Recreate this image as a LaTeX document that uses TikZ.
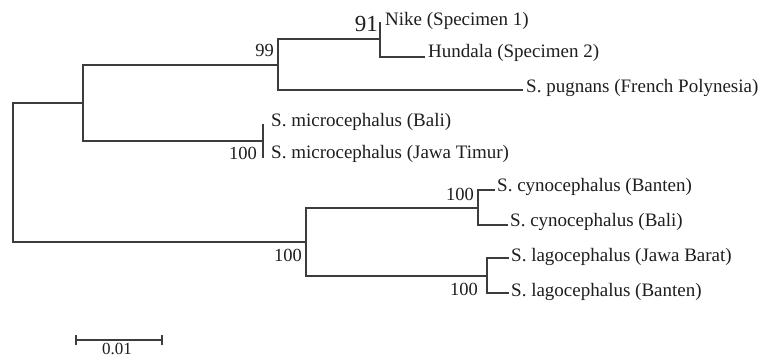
\documentclass[tikz,border=0pt]{standalone}
\usepackage{fontspec}
\setmainfont{Liberation Serif}
\definecolor{branchc}{HTML}{3C3C3C}
\definecolor{textc}{HTML}{1E1E1E}
\begin{document}
\begin{tikzpicture}[x=1pt,y=-1pt,
  br/.style={line width=1.2pt, draw=branchc},
  leaf/.style={anchor=west, inner sep=0pt, text=textc, font=\fontsize{19}{19}\selectfont},
  boot/.style={anchor=east, inner sep=0pt, text=textc, font=\fontsize{18.5}{18.5}\selectfont}]
\useasboundingbox[fill=white] (0,0) rectangle (767,360);
% internal nodes
\coordinate (root) at (13,172);
\coordinate (a) at (83,103);
\coordinate (b) at (278,65);
\coordinate (c) at (380,39);
\coordinate (m) at (263,141);
\coordinate (d) at (306,242);
\coordinate (e) at (478,208);
\coordinate (f) at (487,276);
% tips
\coordinate (tNike) at (380,22);
\coordinate (tHund) at (425,57);
\coordinate (tPug) at (523,90);
\coordinate (tMB) at (263,124);
\coordinate (tMJ) at (263,158);
\coordinate (tCBn) at (495,190);
\coordinate (tCBl) at (508,225);
\coordinate (tLJ) at (509,258);
\coordinate (tLB) at (509,293);
% leaf labels
\node[leaf] (nike) at (385,21) {Nike (Specimen 1)};
\node[leaf] (hund) at (428,53) {Hundala (Specimen 2)};
\node[leaf] (pug) at (526,88) {S. pugnans (French Polynesia)};
\node[leaf] (mb) at (271,122) {S. microcephalus (Bali)};
\node[leaf] (mj) at (271,154) {S. microcephalus (Jawa Timur)};
\node[leaf] (cbn) at (497,187) {S. cynocephalus (Banten)};
\node[leaf] (cbl) at (510,222) {S. cynocephalus (Bali)};
\node[leaf] (lj) at (511,257) {S. lagocephalus (Jawa Barat)};
\node[leaf] (lb) at (511,292) {S. lagocephalus (Banten)};
% branches
\draw[br] (tNike) -- (c) |- (tHund);
\draw[br] (c) -| (b) |- (tPug);
\draw[br] (tMB) -- (tMJ);
\draw[br] (b) -| (a) |- (m);
\draw[br] (a) -| (root) |- (d);
\draw[br] (tCBn) -| (e) |- (tCBl);
\draw[br] (tLJ) -| (f) |- (tLB);
\draw[br] (e) -| (d) |- (f);
% bootstrap values
\node[boot, font=\fontsize{23}{23}\selectfont] (b91) at (378,24) {91};
\node[boot] (b99) at (274,50) {99};
\node[boot] (b100m) at (257,153) {100};
\node[boot] (b100d) at (302,255) {100};
\node[boot] (b100e) at (474,194) {100};
\node[boot] (b100f) at (478,289) {100};
% scale bar
\coordinate (s1) at (76,340);
\coordinate (s2) at (162,340);
\draw[br] (s1) -- (s2);
\draw[br] ([yshift=-5]s1) -- ([yshift=5]s1);
\draw[br] ([yshift=-5]s2) -- ([yshift=5]s2);
\node[anchor=north, inner sep=0pt, text=textc, font=\fontsize{17}{17}\selectfont] (scl) at (117,343) {0.01};
\end{tikzpicture}
\end{document}
